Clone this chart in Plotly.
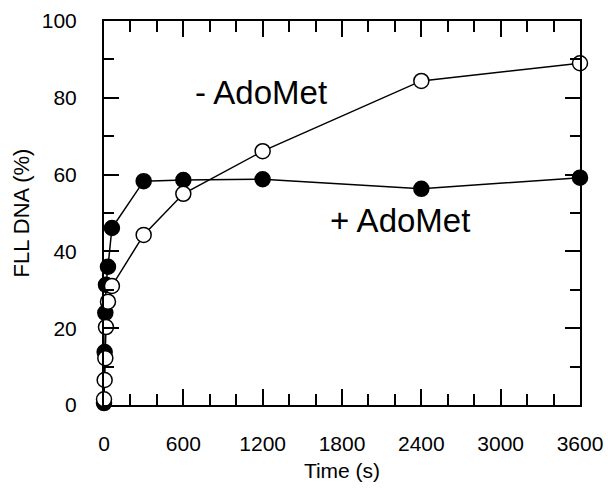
import plotly.graph_objects as go

t_plus = [0, 5, 10, 15, 30, 60, 300, 600, 1200, 2400, 3600]
y_plus = [0.5, 13.8, 24, 31.3, 36, 46.1, 58.3, 58.6, 58.8, 56.3, 59.2]
t_minus = [0, 5, 10, 15, 30, 60, 300, 600, 1200, 2400, 3600]
y_minus = [1.5, 6.5, 12.2, 20.3, 26.9, 31, 44.3, 55, 66.1, 84.4, 89]

font = "Liberation Sans, Arial, sans-serif"
fig = go.Figure()
fig.add_trace(go.Scatter(x=t_plus, y=y_plus, mode="lines+markers", name="+ AdoMet",
                         line=dict(color="black", width=1.5),
                         marker=dict(symbol="circle", size=15, color="black",
                                     line=dict(color="black", width=1.5)),
                         cliponaxis=False))
fig.add_trace(go.Scatter(x=t_minus, y=y_minus, mode="lines+markers", name="- AdoMet",
                         line=dict(color="black", width=1.5),
                         marker=dict(symbol="circle", size=15, color="white",
                                     line=dict(color="black", width=1.5)),
                         cliponaxis=False))
fig.add_annotation(x=1184, y=81.3, text="- AdoMet", showarrow=False,
                   font=dict(family=font, size=33, color="black"))
fig.add_annotation(x=2239, y=48, text="+ AdoMet", showarrow=False,
                   font=dict(family=font, size=33, color="black"))
fig.update_layout(width=608, height=490, showlegend=False,
                  paper_bgcolor="white", plot_bgcolor="white",
                  margin=dict(l=104, r=28, t=21, b=85, autoexpand=False),
                  font=dict(family=font, size=21, color="black"))
fig.update_xaxes(range=[0, 3600], tickvals=[0, 600, 1200, 1800, 2400, 3000, 3600],
                 ticks="inside", ticklen=16, tickwidth=1.8, tickcolor="black",
                 minor=dict(dtick=200, tick0=0, ticks="inside", ticklen=11, tickcolor="black", tickwidth=1.8),
                 showline=True, linecolor="black", linewidth=2, mirror="ticks",
                 showgrid=False, zeroline=False, ticklabelstandoff=19, automargin=False,
                 title=dict(text="Time (s)", font=dict(size=21), standoff=9),
                 tickfont=dict(size=21))
fig.update_yaxes(range=[0, 100], tickvals=[0, 20, 40, 60, 80, 100],
                 ticks="inside", ticklen=15, tickwidth=1.8, tickcolor="black",
                 minor=dict(dtick=10, tick0=0, ticks="inside", ticklen=10, tickcolor="black", tickwidth=1.8),
                 showline=True, linecolor="black", linewidth=2, mirror="ticks",
                 showgrid=False, zeroline=False, ticklabelstandoff=21, automargin=False,
                 title=dict(text="FLL DNA (%)", font=dict(size=22), standoff=6),
                 tickfont=dict(size=21))
fig.write_html("out.html", config={"displayModeBar": False},
               post_script="document.body.style.margin='0';document.body.style.overflow='hidden';")
